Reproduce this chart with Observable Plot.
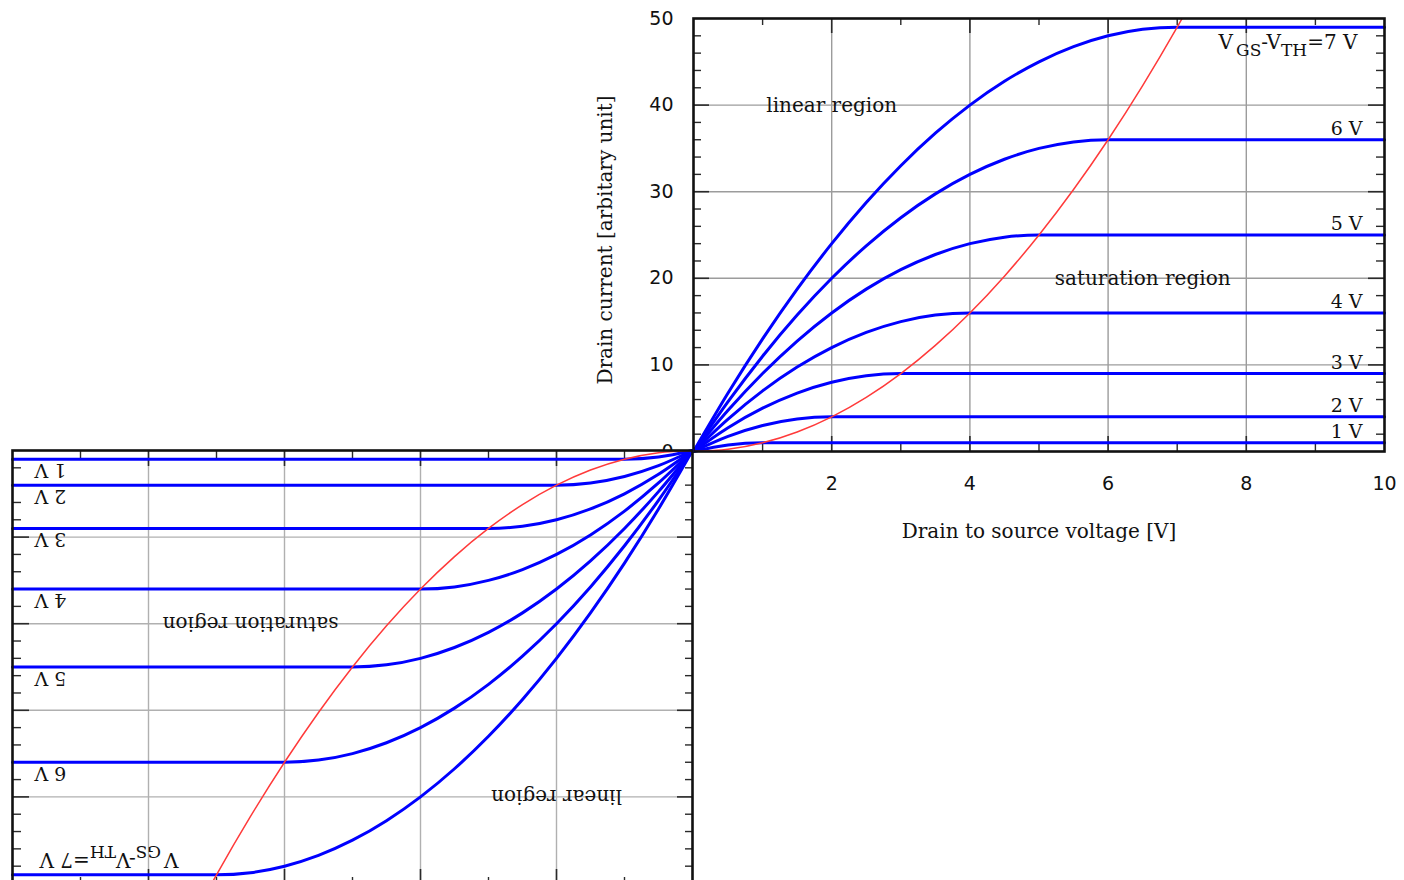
<!DOCTYPE html>
<html>
<head>
<meta charset="utf-8">
<script src="https://cdn.jsdelivr.net/npm/d3@7"></script>
<script src="https://cdn.jsdelivr.net/npm/@observablehq/plot@0.6"></script>
<style>
html, body { margin: 0; padding: 0; background: #fff; }
#wrap { position: relative; width: 1404px; height: 880px; overflow: hidden; background: #fff; }
#wrap svg { position: absolute; }
</style>
</head>
<body>
<div id="wrap"></div>
<script>
// ---- data ----
const vds = [0, 0.5, 1, 1.5, 2, 2.5, 3, 3.5, 4, 4.5, 5, 5.5, 6, 6.5, 7, 7.5, 8, 8.5, 9, 9.5, 10];
const vgsSteps = [1, 2, 3, 4, 5, 6, 7];
const id1 = [0, 0.75, 1, 1, 1, 1, 1, 1, 1, 1, 1, 1, 1, 1, 1, 1, 1, 1, 1, 1, 1];
const id2 = [0, 1.75, 3, 3.75, 4, 4, 4, 4, 4, 4, 4, 4, 4, 4, 4, 4, 4, 4, 4, 4, 4];
const id3 = [0, 2.75, 5, 6.75, 8, 8.75, 9, 9, 9, 9, 9, 9, 9, 9, 9, 9, 9, 9, 9, 9, 9];
const id4 = [0, 3.75, 7, 9.75, 12, 13.75, 15, 15.75, 16, 16, 16, 16, 16, 16, 16, 16, 16, 16, 16, 16, 16];
const id5 = [0, 4.75, 9, 12.75, 16, 18.75, 21, 22.75, 24, 24.75, 25, 25, 25, 25, 25, 25, 25, 25, 25, 25, 25];
const id6 = [0, 5.75, 11, 15.75, 20, 23.75, 27, 29.75, 32, 33.75, 35, 35.75, 36, 36, 36, 36, 36, 36, 36, 36, 36];
const id7 = [0, 6.75, 13, 18.75, 24, 28.75, 33, 36.75, 40, 42.75, 45, 46.75, 48, 48.75, 49, 49, 49, 49, 49, 49, 49];
const boundaryVds = [0, 0.5, 1, 1.5, 2, 2.5, 3, 3.5, 4, 4.5, 5, 5.5, 6, 6.5, 7, 7.5];
const boundaryId = [0, 0.25, 1, 2.25, 4, 6.25, 9, 12.25, 16, 20.25, 25, 30.25, 36, 42.25, 49, 56.25];

const xTickLabels = [2, 4, 6, 8, 10];
const yTickLabels = [0, 10, 20, 30, 40, 50];
const xGrid = [2, 4, 6, 8];
const yGrid = [10, 20, 30, 40];
const xMinor = [1, 3, 5, 7, 9];
const yMinor = [2, 4, 6, 8, 12, 14, 16, 18, 22, 24, 26, 28, 32, 34, 36, 38, 42, 44, 46, 48];

const curveLabels = ["1 V", "2 V", "3 V", "4 V", "5 V", "6 V"];
const satCurrent = [1, 4, 9, 16, 25, 36, 49];
const topLabel = "VGS-VTH=7 V";
const regionLabels = ["linear region", "saturation region"];
const regionVds = [2, 6.5];
const regionId = [40, 20];

const xTitle = "Drain to source voltage [V]";
const yTitle = "Drain current [arbitary unit]";

// ---- tables ----
const series = [id1, id2, id3, id4, id5, id6, id7];
const rows = vgsSteps.flatMap((v, i) => vds.map((x, j) => ({vgs: v, vds: x, id: series[i][j]})));
const boundary = boundaryVds.map((x, j) => ({vds: x, id: boundaryId[j]}));

const serif = "'DejaVu Serif', serif";
const sans = "'DejaVu Sans', sans-serif";

function drawChart({width, height, margin, axes, gridStroke}) {
  const pw = width - margin.left - margin.right;
  const ph = height - margin.top - margin.bottom;
  const tickStroke = "#2a2a2a";
  const marks = [
    Plot.frame({fill: "white", stroke: null}),
    Plot.ruleX(xGrid, {stroke: gridStroke, strokeWidth: 1.4}),
    Plot.ruleY(yGrid, {stroke: gridStroke, strokeWidth: 1.4}),
    // inward ticks, bottom
    Plot.ruleX(xMinor, {stroke: tickStroke, strokeWidth: 1.4, insetTop: ph - 7}),
    Plot.ruleX(xGrid, {stroke: tickStroke, strokeWidth: 1.6, insetTop: ph - 15}),
    // top
    Plot.ruleX(xMinor, {stroke: tickStroke, strokeWidth: 1.4, insetBottom: ph - 7}),
    Plot.ruleX(xGrid, {stroke: tickStroke, strokeWidth: 1.6, insetBottom: ph - 15}),
    // left
    Plot.ruleY(yMinor, {stroke: tickStroke, strokeWidth: 1.4, insetRight: pw - 8}),
    Plot.ruleY(yGrid, {stroke: tickStroke, strokeWidth: 1.6, insetRight: pw - 16}),
    // right
    Plot.ruleY(yMinor, {stroke: tickStroke, strokeWidth: 1.4, insetLeft: pw - 8}),
    Plot.ruleY(yGrid, {stroke: tickStroke, strokeWidth: 1.6, insetLeft: pw - 16}),
    // curves
    Plot.line(rows, {x: "vds", y: "id", z: "vgs", stroke: "#0000ff", strokeWidth: 3, curve: "monotone-x"}),
    Plot.line(boundary, {x: "vds", y: "id", stroke: "#ff3a3a", strokeWidth: 1.5, curve: "monotone-x", clip: true}),
    // annotations
    Plot.text(regionLabels, {x: (d, i) => regionVds[i], y: (d, i) => regionId[i], text: d => d,
      fontFamily: serif, fontSize: 20, fill: "#111"}),
    Plot.text(curveLabels, {frameAnchor: "right", y: (d, i) => satCurrent[i], text: d => d,
      textAnchor: "end", dx: -22, dy: -11, fontFamily: serif, fontSize: 19, fill: "#111"}),
    Plot.text([topLabel], {frameAnchor: "right", y: () => satCurrent[6], text: d => d,
      textAnchor: "end", dx: -27, dy: 15, fontFamily: serif, fontSize: 20, fill: "#111", className: "vgs-label"}),
    Plot.frame({stroke: "#111", strokeWidth: 2.6})
  ];
  if (axes) {
    marks.push(
      Plot.text([xTitle], {frameAnchor: "bottom", text: d => d, dy: 86, textAnchor: "middle",
        fontFamily: serif, fontSize: 20, fill: "#111"}),
      Plot.text([yTitle], {frameAnchor: "left", text: d => d, dx: -88, dy: 5, rotate: -90, textAnchor: "middle",
        fontFamily: serif, fontSize: 20, fill: "#111"})
    );
  }
  const svg = Plot.plot({
    width, height,
    marginTop: margin.top, marginRight: margin.right, marginBottom: margin.bottom, marginLeft: margin.left,
    style: {background: "transparent", fontFamily: sans, fontSize: "19px", color: "#111", overflow: "visible"},
    x: {domain: [0, 10], ticks: xTickLabels, tickSize: 0, tickPadding: 25, label: null, axis: axes ? "bottom" : null},
    y: {domain: [0, 50], ticks: yTickLabels, tickSize: 0, tickPadding: 20, label: null, axis: axes ? "left" : null},
    marks
  });
  // subscripts in the V_GS - V_TH label
  d3.select(svg).selectAll("g.vgs-label text").each(function () {
    const t = d3.select(this);
    t.text(null);
    t.append("tspan").text("V");
    t.append("tspan").attr("dx", 3).attr("dy", 7).attr("font-size", 17).text("GS");
    t.append("tspan").attr("dy", -7).text("-V");
    t.append("tspan").attr("dy", 7).attr("font-size", 17).text("TH");
    t.append("tspan").attr("dy", -7).text("=7 V");
  });
  return svg;
}

const wrap = document.getElementById("wrap");

// main chart: frame from x=693..1384, y=18..451
const main = drawChart({width: 1404, height: 560, margin: {top: 18, right: 20, bottom: 109, left: 693}, axes: true, gridStroke: "#9c9c9c"});
main.style.left = "0px";
main.style.top = "0px";
wrap.appendChild(main);

// rotated copy in the lower-left quadrant (same origin, turned 180 degrees)
const m = 3;
const lower = drawChart({width: 680 + 2 * m, height: 433 + 2 * m, margin: {top: m, right: m, bottom: m, left: m}, axes: false, gridStroke: "#b0b0b0"});
lower.style.left = (13 - m) + "px";
lower.style.top = (451 - m) + "px";
lower.style.transform = "rotate(180deg)";
wrap.appendChild(lower);
</script>
</body>
</html>
